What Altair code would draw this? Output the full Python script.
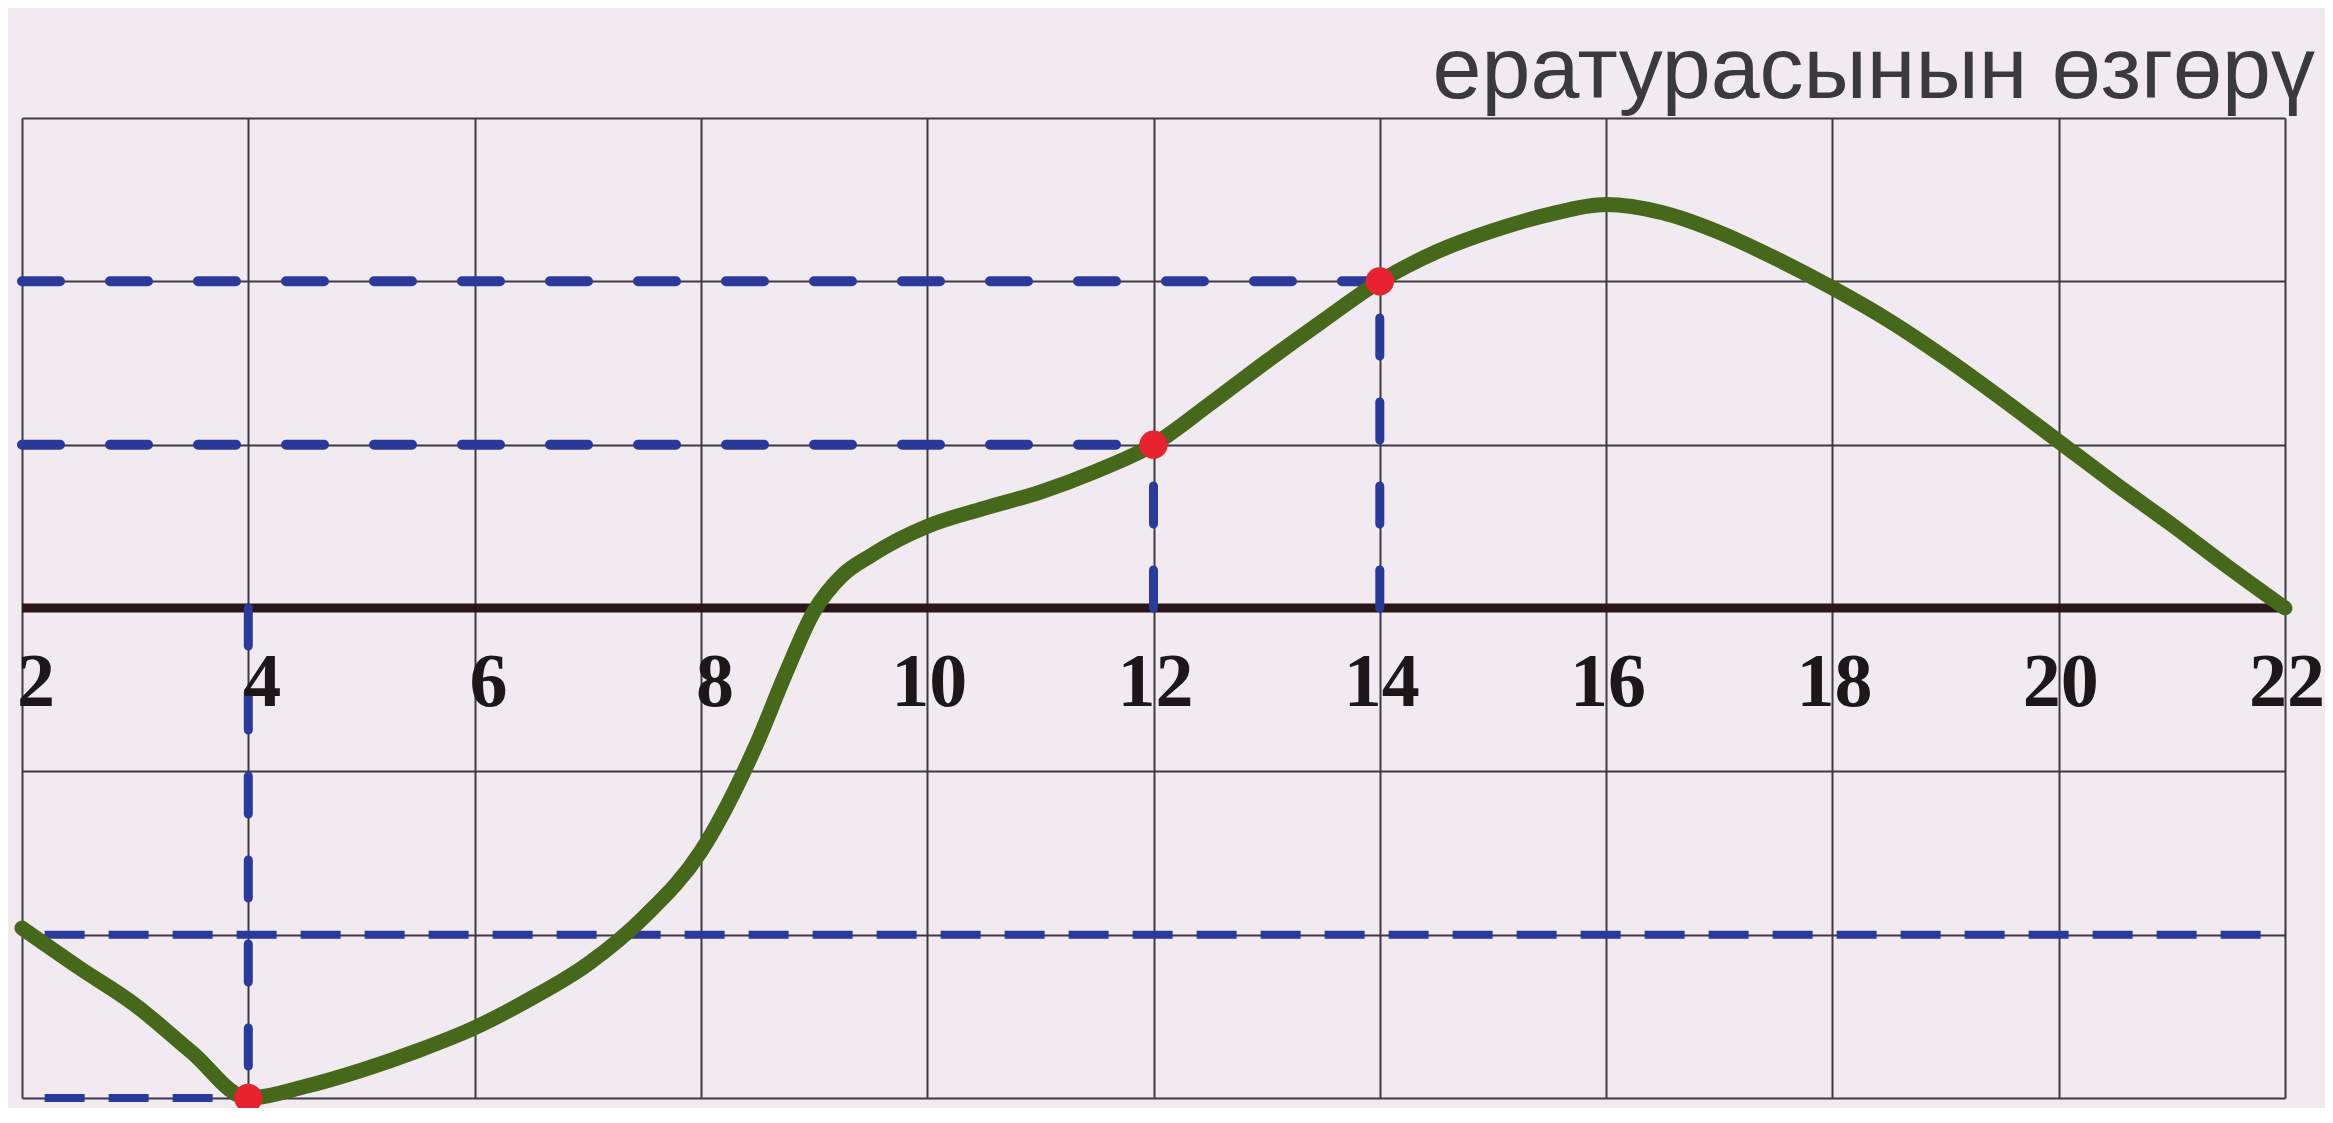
import altair as alt
import pandas as pd

# ---- data (grid units: one horizontal grid step = 1) ----
hours = [2, 2.5, 3, 3.5, 4, 4.5, 5, 5.5, 6, 6.5, 7, 7.5, 8, 8.5, 8.75, 9, 9.25, 9.5, 9.75,
         10, 10.5, 11, 11.5, 12, 12.5, 13, 13.5, 14, 14.5, 15, 15.5, 16, 16.5, 17, 17.5,
         18, 18.5, 19, 19.5, 20, 20.5, 21, 21.5, 22]
temps = [-1.96, -2.2, -2.43, -2.72, -3.0, -2.93, -2.83, -2.71, -2.57, -2.39, -2.18, -1.89,
         -1.49, -0.82, -0.4, -0.02, 0.2, 0.32, 0.42,
         0.5, 0.61, 0.71, 0.84, 1.0, 1.25, 1.51, 1.76, 2.0, 2.18, 2.31, 2.41, 2.47, 2.42, 2.30, 2.14,
         1.96, 1.76, 1.53, 1.28, 1.02, 0.76, 0.51, 0.25, 0.0]

tick_hours = [2, 4, 6, 8, 10, 12, 14, 16, 18, 20, 22]
grid_levels = [-3, -2, -1, 0, 1, 2, 3]

marked_hours = [4, 12, 14]
marked_temps = [-3, 1, 2]

# upper horizontal guide (dashed) lines
hu_start = [2, 2]
hu_end = [14, 12]
hu_level = [2, 1]
# lower horizontal guide (dashed) lines
hl_start = [2.2, 2.2]
hl_end = [22, 4]
hl_level = [-2, -3]
# vertical guide (dashed) lines
v_hour = [4, 12, 14]
v_from = [0, 0, 0]
v_to = [-3, 1, 2]

title_text = "ературасынын өзгөрү"

curve_df = pd.DataFrame({"h": hours, "t": temps})
pts_df = pd.DataFrame({"h": marked_hours, "t": marked_temps})
hu_df = pd.DataFrame({"h": hu_start, "h2": hu_end, "t": hu_level})
hl_df = pd.DataFrame({"h": hl_start, "h2": hl_end, "t": hl_level})
vdash_df = pd.DataFrame({"h": v_hour, "t": v_from, "t2": v_to})
tick_df = pd.DataFrame({"h": tick_hours, "label": [str(v) for v in tick_hours],
                        "zero": [0] * len(tick_hours)})
zero_df = pd.DataFrame({"t": [0]})
title_df = pd.DataFrame({"txt": [title_text]})

W, H = 2263, 980

xs = alt.Scale(domain=[2, 22], nice=False, zero=False)
ys = alt.Scale(domain=[-3, 3], nice=False, zero=False)

x_axis = alt.Axis(values=tick_hours, grid=True, labels=False, ticks=False, domain=False, title=None,
                  gridColor="#3e3a40", gridWidth=2, gridOpacity=1)
y_axis = alt.Axis(values=grid_levels, grid=True, labels=False, ticks=False, domain=False, title=None,
                  gridColor="#3e3a40", gridWidth=2.2, gridOpacity=1)

curve = alt.Chart(curve_df).mark_line(
    color="#46681a", strokeWidth=15, interpolate="monotone", strokeCap="round", strokeJoin="round"
).encode(
    x=alt.X("h:Q", scale=xs, axis=x_axis),
    y=alt.Y("t:Q", scale=ys, axis=y_axis),
)

zero_rule = alt.Chart(zero_df).mark_rule(color="#2a1618", strokeWidth=9).encode(
    y=alt.Y("t:Q", scale=ys)
)

hu_dash = alt.Chart(hu_df).mark_rule(
    color="#2b3a9a", strokeWidth=10, strokeDash=[38, 50], strokeCap="round"
).encode(
    x=alt.X("h:Q", scale=xs), x2="h2:Q", y=alt.Y("t:Q", scale=ys)
)

hl_dash = alt.Chart(hl_df).mark_rule(
    color="#2b3a9a", strokeWidth=8, strokeDash=[40, 24]
).encode(
    x=alt.X("h:Q", scale=xs), x2="h2:Q", y=alt.Y("t:Q", scale=ys)
)

vdash = alt.Chart(vdash_df).mark_rule(
    color="#2b3a9a", strokeWidth=9, strokeDash=[38, 46], strokeCap="round"
).encode(
    x=alt.X("h:Q", scale=xs), y=alt.Y("t:Q", scale=ys), y2="t2:Q"
)

points = alt.Chart(pts_df).mark_circle(color="#e8232f", opacity=1, size=800).encode(
    x=alt.X("h:Q", scale=xs), y=alt.Y("t:Q", scale=ys)
)

label_base = alt.Chart(tick_df).encode(
    x=alt.X("h:Q", scale=xs), y=alt.Y("zero:Q", scale=ys), text="label:N"
)
labels_single = label_base.transform_filter("datum.h < 10").mark_text(
    font="Liberation Serif", fontWeight="bold", fontSize=76, color="#1e1618",
    baseline="alphabetic", align="center", dy=98, dx=14
)
labels_double = label_base.transform_filter("datum.h >= 10").mark_text(
    font="Liberation Serif", fontWeight="bold", fontSize=76, color="#1e1618",
    baseline="alphabetic", align="center", dy=98, dx=2
)

# heading fragment at the top right, above the grid
heading = alt.Chart(title_df).mark_text(
    font="Liberation Sans", fontSize=88, color="#3a3a3c", align="right", baseline="alphabetic"
).encode(
    x=alt.value(W + 30), y=alt.value(-20), text="txt:N"
)

chart = alt.layer(
    zero_rule, hu_dash, hl_dash, vdash, curve, points, labels_single, labels_double, heading
).properties(
    width=W, height=H,
    autosize=alt.AutoSizeParams(type="none"),
    padding={"left": 14, "top": 110, "right": 40, "bottom": 10},
    background="#f1eaf0",
).configure_view(stroke=None)

chart.save("out.html", embed_options={"renderer": "svg", "actions": False})
